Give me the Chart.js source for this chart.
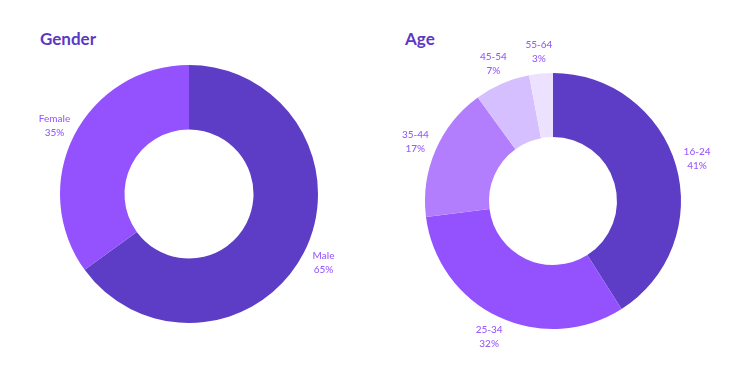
<!DOCTYPE html>
<html><head><meta charset="utf-8">
<script src="https://cdn.jsdelivr.net/npm/chart.js@4"></script>
<style>
html,body{margin:0;padding:0;background:#fff;width:730px;height:370px;overflow:hidden;font-family:Lato, "Open Sans", sans-serif;}
.wrap{position:absolute;}
.title{position:absolute;font-weight:700;font-size:17px;color:#5b38c6;font-family:Lato, sans-serif;}
</style></head><body>
<div class="title" style="left:40px;top:28px;">Gender</div>
<div class="title" style="left:405px;top:28px;">Age</div>
<div class="wrap" style="left:0;top:30px;width:378px;height:328px;"><canvas id="g"></canvas></div>
<div class="wrap" style="left:378px;top:37px;width:350px;height:328px;"><canvas id="a"></canvas></div>
<script>
const genderLabels = ['Male', 'Female'];
const genderValues = [65, 35];
const genderColors = ['#5d3cc6', '#9452ff'];
const ageLabels = ['16-24', '25-34', '35-44', '45-54', '55-64'];
const ageValues = [41, 32, 17, 7, 3];
const ageColors = ['#5d3cc6', '#9452ff', '#b27efd', '#d6bfff', '#ece2ff'];

const outsideLabels = {
  id: 'outsideLabels',
  afterDatasetsDraw(chart) {
    const ctx = chart.ctx;
    const meta = chart.getDatasetMeta(0);
    const data = chart.data.datasets[0].data;
    ctx.save();
    ctx.fillStyle = '#9a5cff';
    ctx.font = '500 10px Lato, "Open Sans", sans-serif';
    ctx.textAlign = 'center';
    ctx.textBaseline = 'middle';
    meta.data.forEach((arc, i) => {
      const p = arc.getProps(['x','y','startAngle','endAngle','outerRadius']);
      const mid = (p.startAngle + p.endAngle) / 2;
      const r = p.outerRadius + 22;
      const x = p.x + Math.cos(mid) * r;
      const y = p.y + Math.sin(mid) * r;
      ctx.fillText(chart.data.labels[i], x, y - 7);
      ctx.fillText(data[i] + '%', x, y + 7);
    });
    ctx.restore();
  }
};

function makeChart(id, labels, values, colors, pad) {
  return new Chart(document.getElementById(id), {
    type: 'doughnut',
    data: { labels: labels, datasets: [{ data: values, backgroundColor: colors, borderWidth: 0, hoverOffset: 0 }] },
    options: {
      responsive: true, maintainAspectRatio: false, animation: false,
      cutout: '50%',
      layout: { padding: pad },
      plugins: { legend: { display: false }, tooltip: { enabled: false } }
    },
    plugins: [outsideLabels]
  });
}
makeChart('g', genderLabels, genderValues, genderColors, 35);
makeChart('a', ageLabels, ageValues, ageColors, 36);
</script>
</body></html>
